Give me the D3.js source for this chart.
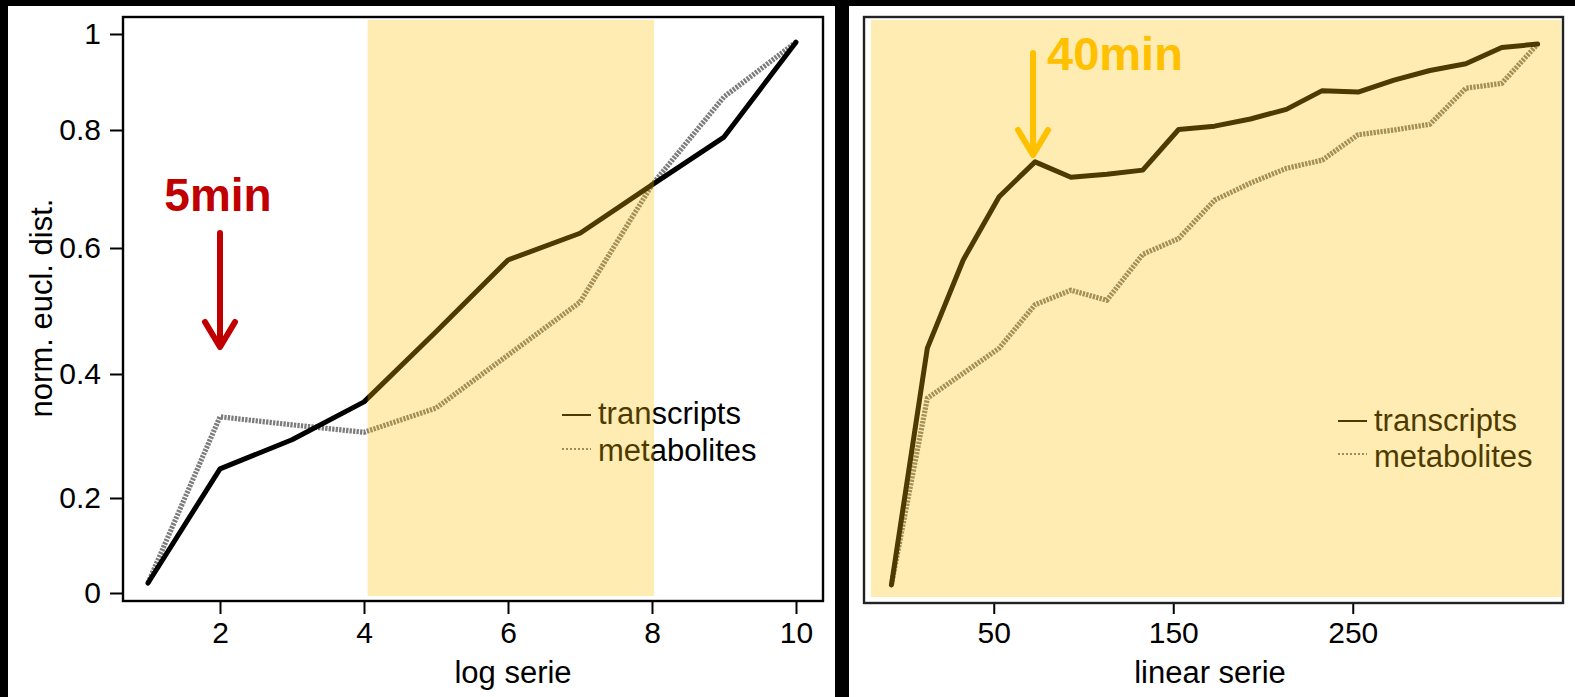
<!DOCTYPE html>
<html>
<head>
<meta charset="utf-8">
<script src="https://cdn.jsdelivr.net/npm/d3@7"></script>
<style>
  html, body { margin: 0; padding: 0; background: #000; overflow: hidden; }
  text { font-family: "Liberation Sans", Arial, Helvetica, sans-serif; }
</style>
</head>
<body>
<svg id="fig" width="1575" height="697"></svg>
<script>
// ---- data -------------------------------------------------------------
// log-spaced sampling series
const logSerie        = [1, 2, 3, 4, 5, 6, 7, 8, 9, 10];
const logTranscripts  = [0.021, 0.247, 0.294, 0.355, 0.467, 0.581, 0.625, 0.707, 0.788, 0.983];
const logMetabolites  = [0.021, 0.331, 0.318, 0.306, 0.345, 0.430, 0.514, 0.707, 0.869, 0.983];
const logWindow       = [4.05, 8.03];          // highlighted part of the log series

// linearly spaced sampling series
const linSerie        = [-7, 13, 33, 53, 73, 93, 113, 133, 153, 173, 193, 213, 233, 253, 273, 293, 313, 333, 353];
const linTranscripts  = [0.017, 0.441, 0.581, 0.687, 0.746, 0.720, 0.725, 0.732, 0.801, 0.808,
                         0.823, 0.843, 0.882, 0.879, 0.904, 0.924, 0.938, 0.972, 0.979];
const linMetabolites  = [0.017, 0.361, 0.401, 0.441, 0.510, 0.533, 0.517, 0.590, 0.616, 0.681,
                         0.710, 0.735, 0.749, 0.792, 0.800, 0.812, 0.887, 0.897, 0.979];

// axes
const yTicks       = [0, 0.2, 0.4, 0.6, 0.8, 1];
const yTickLabels  = ["0", "0.2", "0.4", "0.6", "0.8", "1"];
const logTicks     = [2, 4, 6, 8, 10];
const linTicks     = [50, 150, 250];
const seriesNames  = ["transcripts", "metabolites"];
const yTitle       = "norm. eucl. dist.";
const logTitle     = "log serie";
const linTitle     = "linear serie";
const logMarkLabel = "5min";
const linMarkLabel = "40min";
const logMarkAt    = 2;     // position on the log series
const linMarkIndex = 4;     // sample index on the linear series

// ---- styling -----------------------------------------------------------
const RED = "#C00000", GOLD = "#FFC000";
const FONT = 30;

const svg = d3.select("#fig");

// panels on black ground
svg.append("rect").attr("width", 1575).attr("height", 697).attr("fill", "#000");
svg.append("rect").attr("x", 8).attr("y", 6).attr("width", 827).attr("height", 691).attr("fill", "#fff");
svg.append("rect").attr("x", 849).attr("y", 6).attr("width", 726).attr("height", 691).attr("fill", "#fff");

// shared vertical scale (axis spacing as drawn on the left panel)
const y = d3.scaleLinear()
  .domain([0, 0.2, 0.4, 0.6, 0.8, 1])
  .range([593, 498, 374, 248, 130, 34]);

const xL = d3.scaleLinear().domain([1, 10]).range([148, 796]);
const xR = d3.scaleLinear().domain([0, 300]).range([904, 1442.5]);

function drawSeries(g, xs, ys, x, dotted) {
  const line = d3.line().x((d, i) => x(xs[i])).y(d => y(d));
  const p = g.append("path")
    .attr("d", line(ys))
    .attr("fill", "none");
  if (dotted) {
    p.attr("stroke", "#7c7c7c").attr("stroke-width", 5.2)
      .attr("stroke-dasharray", "2.3 1.2").attr("stroke-linejoin", "round");
  } else {
    p.attr("stroke", "#000").attr("stroke-width", 5)
      .attr("stroke-linejoin", "round").attr("stroke-linecap", "round");
  }
}

function drawLegend(g, x0, yLine1, yText1, yLine2, yText2) {
  g.append("line").attr("x1", x0).attr("x2", x0 + 29).attr("y1", yLine1).attr("y2", yLine1)
    .attr("stroke", "#000").attr("stroke-width", 2);
  g.append("line").attr("x1", x0).attr("x2", x0 + 29).attr("y1", yLine2).attr("y2", yLine2)
    .attr("stroke", "#777").attr("stroke-width", 1.8).attr("stroke-dasharray", "2 2");
  g.append("text").attr("x", x0 + 36).attr("y", yText1).attr("font-size", 31).attr("fill", "#000").text(seriesNames[0]);
  g.append("text").attr("x", x0 + 36).attr("y", yText2).attr("font-size", 31).attr("fill", "#000").text(seriesNames[1]);
}

function styleAxis(g) {
  g.select(".domain").remove();
  g.selectAll(".tick line").attr("stroke", "#000").attr("stroke-width", 2);
  g.selectAll(".tick text").attr("font-size", FONT).attr("fill", "#000")
    .style("font-family", '"Liberation Sans", Arial, sans-serif');
}

function arrow(g, x, yTop, yTip, color) {
  g.append("path")
    .attr("d", `M${x},${yTop}L${x},${yTip - 2}M${x - 15},${yTip - 25}L${x},${yTip}L${x + 15},${yTip - 25}`)
    .attr("fill", "none").attr("stroke", color).attr("stroke-width", 6)
    .attr("stroke-linecap", "round").attr("stroke-linejoin", "round");
}

// ---- left panel: log series --------------------------------------------
const left = svg.append("g");

left.append("g").attr("transform", "translate(123,0)")
  .call(d3.axisLeft(y).tickValues(yTicks).tickFormat((d, i) => yTickLabels[i]).tickSize(13).tickPadding(9))
  .call(styleAxis);

left.append("g").attr("transform", "translate(0,602)")
  .call(d3.axisBottom(xL).tickValues(logTicks).tickSize(12).tickPadding(8))
  .call(styleAxis);

drawSeries(left, logSerie, logMetabolites, xL, true);
drawSeries(left, logSerie, logTranscripts, xL, false);
drawLegend(left, 562, 415, 424, 449, 461);

// highlighted window, laid over the curves
left.append("rect")
  .attr("x", xL(logWindow[0])).attr("y", 20)
  .attr("width", xL(logWindow[1]) - xL(logWindow[0])).attr("height", 576)
  .attr("fill", GOLD).attr("fill-opacity", 0.3);

left.append("rect").attr("x", 123).attr("y", 17).attr("width", 700).attr("height", 584)
  .attr("fill", "none").attr("stroke", "#000").attr("stroke-width", 2.4);

left.append("text").attr("transform", "translate(52,308) rotate(-90)")
  .attr("text-anchor", "middle").attr("font-size", 31).attr("fill", "#000").text(yTitle);
left.append("text").attr("x", 513).attr("y", 683)
  .attr("text-anchor", "middle").attr("font-size", 31).attr("fill", "#000").text(logTitle);

arrow(left, xL(logMarkAt), 233, 347, RED);
left.append("text").attr("x", xL(logMarkAt) - 2).attr("y", 211)
  .attr("text-anchor", "middle").attr("font-size", 46).attr("font-weight", "bold")
  .attr("fill", RED).text(logMarkLabel);

// ---- right panel: linear series ----------------------------------------
const right = svg.append("g");

right.append("g").attr("transform", "translate(0,603)")
  .call(d3.axisBottom(xR).tickValues(linTicks).tickSize(11).tickPadding(8))
  .call(styleAxis);

drawSeries(right, linSerie, linMetabolites, xR, true);
drawSeries(right, linSerie, linTranscripts, xR, false);
drawLegend(right, 1338, 421, 431, 454, 467);

right.append("rect").attr("x", 871).attr("y", 20).attr("width", 690).attr("height", 577)
  .attr("fill", GOLD).attr("fill-opacity", 0.3);

right.append("rect").attr("x", 864).attr("y", 17).attr("width", 699).attr("height", 586)
  .attr("fill", "none").attr("stroke", "#222").attr("stroke-width", 2.4);

right.append("text").attr("x", 1210).attr("y", 683)
  .attr("text-anchor", "middle").attr("font-size", 31).attr("fill", "#000").text(linTitle);

const markX = xR(linSerie[linMarkIndex]);
arrow(right, markX - 2, 53, 155, GOLD);
right.append("text").attr("x", markX + 12).attr("y", 70)
  .attr("font-size", 47).attr("font-weight", "bold").attr("fill", GOLD).text(linMarkLabel);
</script>
</body>
</html>
